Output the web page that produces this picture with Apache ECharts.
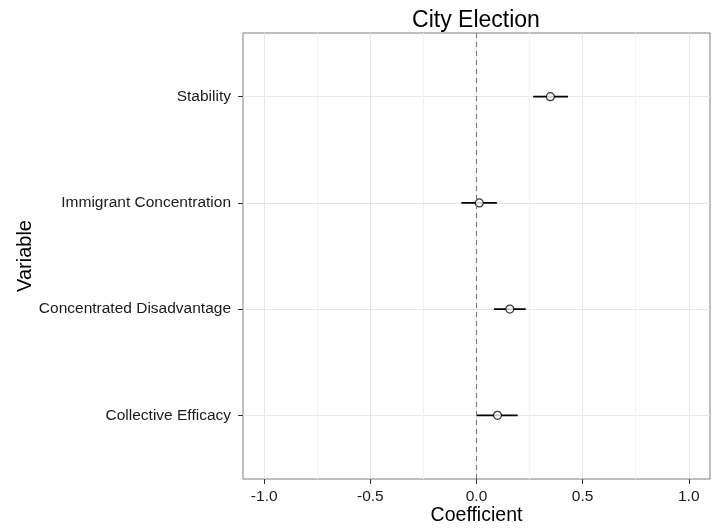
<!DOCTYPE html>
<html><head><meta charset="utf-8">
<script src="https://cdn.jsdelivr.net/npm/echarts@6/dist/echarts.min.js"></script>
<style>html,body{margin:0;padding:0;background:#fff}#c{width:718px;height:531px}</style>
</head><body><div id="c"></div>
<script>
const categories = ['Collective Efficacy', 'Concentrated Disadvantage', 'Immigrant Concentration', 'Stability'];
const estimate = [0.099, 0.157, 0.013, 0.348];
const lower = [0.0, 0.082, -0.071, 0.267];
const upper = [0.194, 0.232, 0.096, 0.431];
const xTicks = [-1.0, -0.5, 0.0, 0.5, 1.0];
const xMinor = [-0.75, -0.25, 0.25, 0.75];
const yPos = [1, 2, 3, 4];

const chart = echarts.init(document.getElementById('c'), null, {renderer: 'canvas'});
const font = '"Liberation Sans", Arial, sans-serif';
const pointData = estimate.map((v, i) => [v, yPos[i]]);
const barData = estimate.map((v, i) => [lower[i], upper[i], yPos[i]]);

chart.setOption({
  animation: false,
  title: {text: 'City Election', left: 471, top: 4, textAlign: 'center',
    textStyle: {fontFamily: font, fontSize: 23, fontWeight: 'normal', color: '#000'}},
  grid: {left: 243, right: 8, top: 33, bottom: 52, show: true, borderColor: '#7f7f7f', borderWidth: 1,
    backgroundColor: '#fff', containLabel: false, outerBoundsMode: 'none'},
  xAxis: [{
    type: 'value', min: -1.1, max: 1.1,
    name: 'Coefficient', nameLocation: 'middle', nameGap: 27, nameMoveOverlap: false,
    nameTextStyle: {fontFamily: font, fontSize: 19.5, color: '#000'},
    axisLine: {show: false, onZero: false},
    axisTick: {show: true, length: 5, lineStyle: {color: '#333'}, customValues: xTicks},
    axisLabel: {customValues: xTicks, margin: 10, fontFamily: font, fontSize: 15.5, color: '#1a1a1a',
      formatter: v => v.toFixed(1)},
    splitLine: {show: true, lineStyle: {color: '#e6e6e6', width: 1}}
  }, {
    type: 'value', min: -1.1, max: 1.1, position: 'bottom',
    axisLine: {show: false, onZero: false}, axisLabel: {show: false},
    axisTick: {show: false, customValues: xMinor},
    splitLine: {show: true, lineStyle: {color: '#f2f2f2', width: 1}}
  }],
  yAxis: {
    type: 'value', min: 0.4, max: 4.6,
    name: 'Variable', nameLocation: 'middle', nameGap: 208, nameRotate: 90, nameMoveOverlap: false,
    nameTextStyle: {fontFamily: font, fontSize: 20, color: '#000'},
    axisLine: {show: false, onZero: false},
    axisTick: {show: true, length: 5, lineStyle: {color: '#333'}, customValues: yPos},
    axisLabel: {customValues: yPos, margin: 12, fontFamily: font, fontSize: 15.5, color: '#1a1a1a',
      formatter: v => categories[Math.round(v) - 1] || ''},
    splitLine: {show: true, lineStyle: {color: '#e6e6e6', width: 1}}
  },
  series: [{
    type: 'custom', xAxisIndex: 0,
    data: barData,
    encode: {x: [0, 1], y: 2},
    renderItem: function (params, api) {
      const p1 = api.coord([api.value(0), api.value(2)]);
      const p2 = api.coord([api.value(1), api.value(2)]);
      return {type: 'line', shape: {x1: p1[0], y1: p1[1], x2: p2[0], y2: p2[1]},
        style: {stroke: '#000', lineWidth: 1.8}};
    },
    markLine: {silent: true, symbol: 'none', label: {show: false},
      lineStyle: {color: '#777', type: [5, 4], width: 1.1},
      data: [{xAxis: 0}]},
    z: 3
  }, {
    type: 'scatter', xAxisIndex: 0,
    data: pointData, symbol: 'circle', symbolSize: 8,
    itemStyle: {color: '#fff', borderColor: '#000', borderWidth: 1.2},
    z: 4
  }]
});
</script></body></html>
